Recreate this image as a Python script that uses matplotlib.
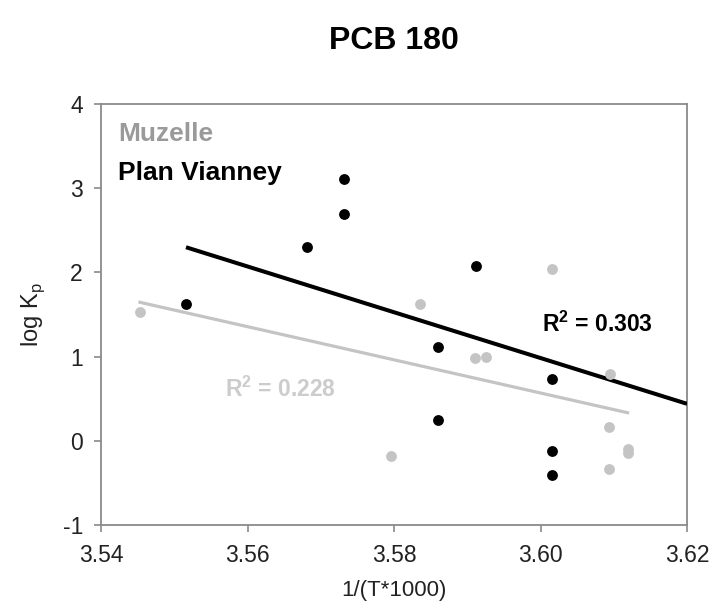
import matplotlib
matplotlib.use("Agg")
import matplotlib.pyplot as plt

plt.rcParams["font.family"] = ["Liberation Sans", "DejaVu Sans"]
plt.rcParams["mathtext.fontset"] = "custom"
plt.rcParams["mathtext.rm"] = "Liberation Sans"
plt.rcParams["mathtext.bf"] = "Liberation Sans:bold"
plt.rcParams["axes.unicode_minus"] = False

# Plan Vianney (black)
pv_x = [3.5516, 3.5732, 3.5732, 3.5681, 3.5912, 3.5860, 3.5860, 3.6015, 3.6015, 3.6015]
pv_y = [1.62, 3.11, 2.70, 2.30, 2.08, 1.11, 0.245, 0.74, -0.12, -0.40]
# Muzelle (gray)
mu_x = [3.5453, 3.6015, 3.5835, 3.5911, 3.5925, 3.6095, 3.6094, 3.6120, 3.6120, 3.6094, 3.5796]
mu_y = [1.53, 2.04, 1.62, 0.98, 1.00, 0.79, 0.17, -0.10, -0.15, -0.34, -0.18]

# trend lines as drawn in the figure
pv_fit_x = [3.5516, 3.62]
pv_fit_y = [2.30, 0.44]
mu_fit_x = [3.5451, 3.6121]
mu_fit_y = [1.65, 0.33]

xticks = [3.54, 3.56, 3.58, 3.60, 3.62]
yticks = [-1, 0, 1, 2, 3, 4]

black = "#000000"
gray_pt = "#c4c4c4"
gray_txt = "#9a9a9a"
frame = "#8a8a8a"

fig = plt.figure(figsize=(7.12, 6.10), dpi=100)
ax = fig.add_axes([0.1419, 0.1393, 0.823, 0.690])

ax.plot(mu_fit_x, mu_fit_y, color=gray_pt, lw=2.3, solid_capstyle="butt", zorder=2)
ax.plot(pv_fit_x, pv_fit_y, color=black, lw=2.9, solid_capstyle="butt", zorder=3)
ax.plot(mu_x, mu_y, "o", color=gray_pt, ms=7.8, mec="none", zorder=4)
ax.plot(pv_x, pv_y, "o", color=black, ms=7.8, mec="none", zorder=5)

ax.set_xlim(3.54, 3.62)
ax.set_ylim(-1, 4)
ax.set_xticks(xticks)
ax.set_xticklabels([f"{v:.2f}" for v in xticks])
ax.set_yticks(yticks)
for s in ax.spines.values():
    s.set_color(frame)
    s.set_linewidth(1.3)
ax.tick_params(direction="out", length=5, width=1.2, color=frame, labelsize=16.5,
               labelcolor="#222222")
ax.tick_params(axis="x", pad=9)
ax.tick_params(axis="y", pad=8)

ax.set_xlabel("1/(T*1000)", fontsize=16, color="#222222", labelpad=9)
ax.set_ylabel(r"log K$_{\mathrm{p}}$", fontsize=17, color="#222222", labelpad=11)

ax.text(0.029, 0.912, "Muzelle", transform=ax.transAxes, fontsize=19,
        fontweight="bold", color=gray_txt)
ax.text(0.029, 0.819, "Plan Vianney", transform=ax.transAxes, fontsize=19,
        fontweight="bold", color=black)

ax.text(3.6002, 1.30, r"R$^{\mathbf{2}}$ = 0.303", fontsize=16.5, fontweight="bold",
        color=black)
ax.text(3.5569, 0.52, r"R$^{\mathbf{2}}$ = 0.228", fontsize=16.5, fontweight="bold",
        color="#cccccc")

fig.suptitle("PCB 180", x=0.553, y=0.958, fontsize=23, fontweight="bold")

fig.savefig("out.png", dpi=100)
